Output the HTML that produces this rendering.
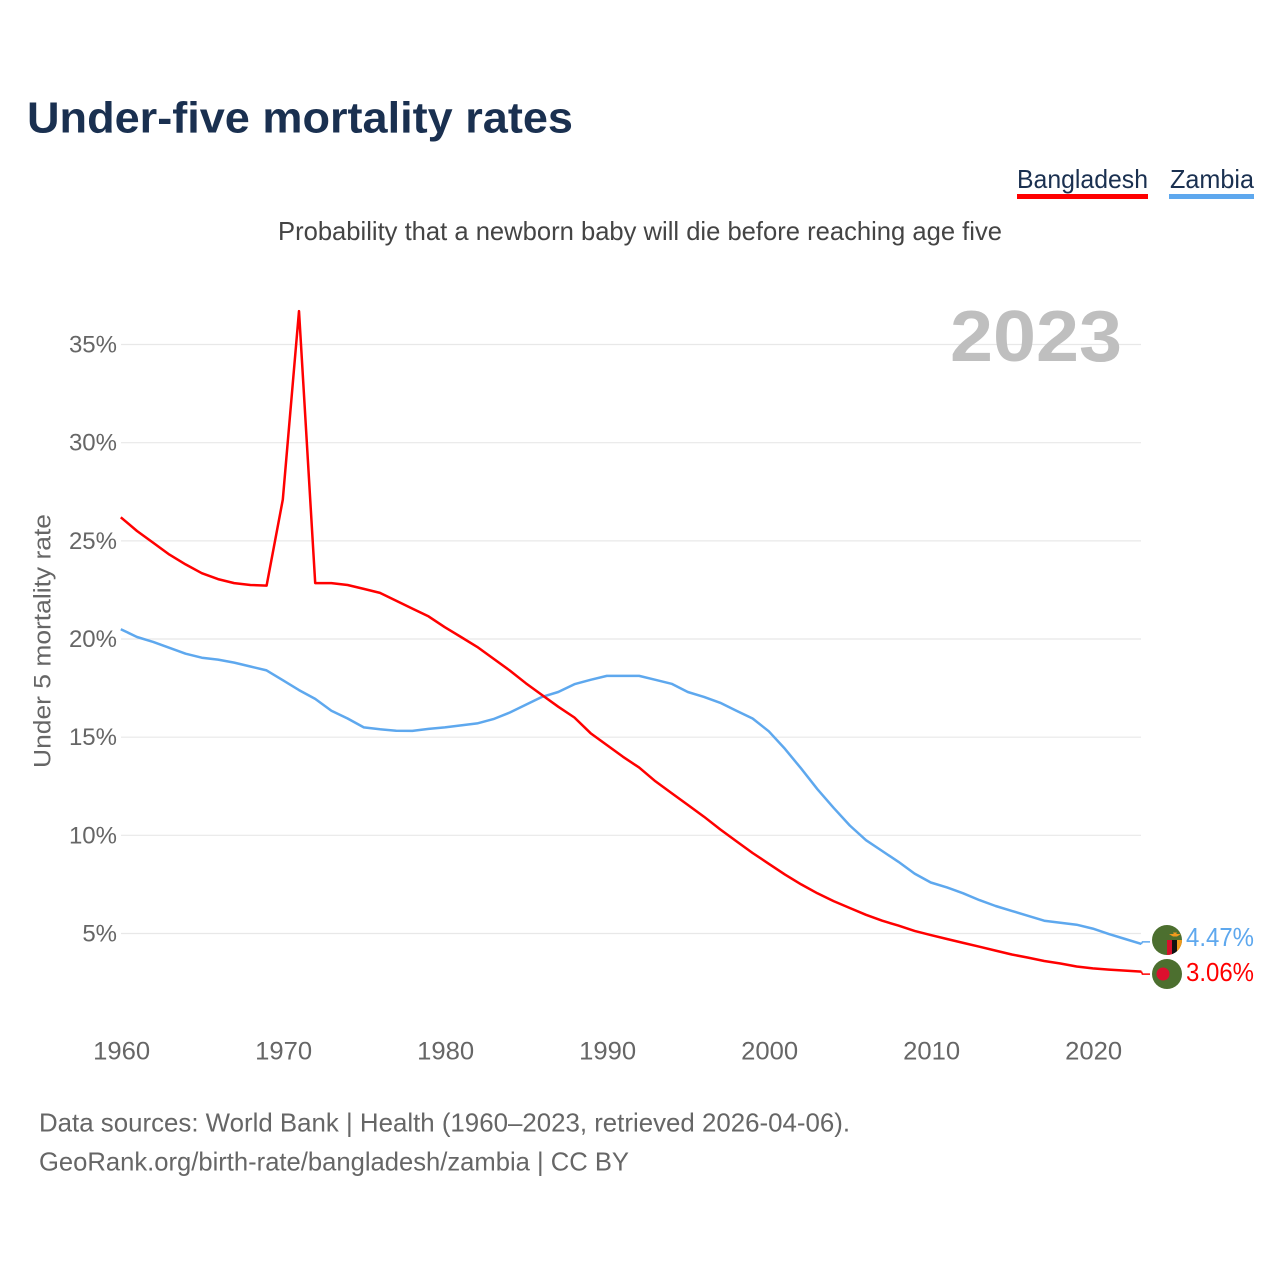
<!DOCTYPE html>
<html lang="en">
<head>
<meta charset="utf-8">
<title>Under-five mortality rates</title>
<style>
html,body{margin:0;padding:0;background:#fff;width:1280px;height:1280px;overflow:hidden}
svg{display:block}
text{font-family:"Liberation Sans",sans-serif}
</style>
</head>
<body>
<svg id="chart" xmlns="http://www.w3.org/2000/svg" width="1280" height="1280" viewBox="0 0 1280 1280">
  <rect x="0" y="0" width="1280" height="1280" fill="#fff"/>
  <text x="27" y="132.500" font-size="44" font-weight="700" fill="#1a3050" textLength="546" lengthAdjust="spacingAndGlyphs">Under-five mortality rates</text>
  <g>
    <text x="1017" y="188" font-size="26" fill="#1a3050" textLength="131" lengthAdjust="spacingAndGlyphs">Bangladesh</text>
    <rect x="1017" y="194" width="131" height="5" fill="#ff0000"/>
  </g>
  <g>
    <text x="1170" y="188" font-size="26" fill="#1a3050" textLength="84" lengthAdjust="spacingAndGlyphs">Zambia</text>
    <rect x="1169" y="194" width="85" height="5" fill="#5ea8ee"/>
  </g>
  <text x="278" y="240" font-size="26" fill="#444" textLength="724" lengthAdjust="spacingAndGlyphs">Probability that a newborn baby will die before reaching age five</text>
  <text transform="translate(50.500,768) rotate(-90)" x="0" y="0" font-size="24" fill="#666" textLength="254" lengthAdjust="spacingAndGlyphs">Under 5 mortality rate</text>
  <g id="grid"></g>
  <g id="yticks"></g>
  <g id="xticks"></g>
  <text x="950" y="361" font-size="72" font-weight="700" fill="#bfbfbf" textLength="172" lengthAdjust="spacingAndGlyphs">2023</text>
  <polyline id="line-zambia" fill="none" stroke="#5ea8ee" stroke-width="2.5" stroke-linejoin="round"/>
  <polyline id="line-bangladesh" fill="none" stroke="#ff0000" stroke-width="2.5" stroke-linejoin="round"/>
  <path id="leader-zambia" fill="none" stroke="#5ea8ee" stroke-width="1.5"/>
  <path id="leader-bangladesh" fill="none" stroke="#ff0000" stroke-width="1.5"/>
  <g>
    <clipPath id="clip-z"><circle cx="1167" cy="940" r="15"/></clipPath>
    <circle cx="1167" cy="940" r="15" fill="#4c6f2f"/>
    <g clip-path="url(#clip-z)">
      <rect x="1167" y="940" width="5" height="16" fill="#d8102c"/>
      <rect x="1172" y="940" width="5" height="16" fill="#111"/>
      <rect x="1177" y="940" width="5" height="16" fill="#ef9a1e"/>
      <path d="M1169 934h12l-4 2.500h-4z M1173 932.500h4l-2 4z" fill="#ef9a1e"/>
    </g>
  </g>
  <g>
    <circle cx="1167" cy="974" r="15" fill="#4c6f2f"/>
    <circle cx="1163" cy="974" r="6.500" fill="#dc0f2e"/>
  </g>
  <text id="value-zambia" x="1186" y="946" font-size="26" fill="#5ea8ee" textLength="68" lengthAdjust="spacingAndGlyphs"></text>
  <text id="value-bangladesh" x="1186" y="981" font-size="26" fill="#ff0000" textLength="68" lengthAdjust="spacingAndGlyphs"></text>
  <text x="39" y="1131.500" font-size="26" fill="#666" textLength="811" lengthAdjust="spacingAndGlyphs">Data sources: World Bank | Health (1960–2023, retrieved 2026-04-06).</text>
  <text x="39" y="1170.500" font-size="26" fill="#666" textLength="590" lengthAdjust="spacingAndGlyphs">GeoRank.org/birth-rate/bangladesh/zambia | CC BY</text>
</svg>
<script>
const startYear = 1960;
const xTickYears = [1960, 1970, 1980, 1990, 2000, 2010, 2020];
const yTickValues = [5, 10, 15, 20, 25, 30, 35];
const bangladesh = [26.2,25.5,24.9,24.3,23.8,23.35,23.05,22.85,22.75,22.72,27.1,36.7,22.85,22.85,22.75,22.55,22.35,21.95,21.55,21.15,20.6,20.1,19.6,19,18.4,17.75,17.15,16.55,16,15.2,14.6,14,13.45,12.75,12.15,11.55,10.95,10.3,9.7,9.1,8.55,8,7.5,7.05,6.65,6.3,5.95,5.65,5.4,5.13,4.92,4.72,4.52,4.33,4.13,3.93,3.77,3.6,3.47,3.32,3.22,3.16,3.11,3.06];
const zambia = [20.5,20.1,19.85,19.55,19.25,19.05,18.95,18.8,18.6,18.4,17.9,17.4,16.95,16.35,15.95,15.5,15.4,15.33,15.32,15.42,15.5,15.6,15.7,15.92,16.25,16.65,17.05,17.3,17.7,17.92,18.12,18.12,18.12,17.92,17.72,17.3,17.05,16.75,16.35,15.95,15.3,14.4,13.4,12.35,11.4,10.5,9.75,9.2,8.65,8.05,7.6,7.35,7.05,6.7,6.4,6.15,5.9,5.65,5.55,5.45,5.25,4.97,4.72,4.47];

const NS = 'http://www.w3.org/2000/svg';
function xScale(year) { return 120.8 + (year - 1960) * 16.2; }
function yScale(v) { return 933.5 - (v - 5) * 19.633; }
function points(series) {
  return series.map(function (v, i) {
    return xScale(startYear + i).toFixed(1) + ',' + yScale(v).toFixed(1);
  }).join(' ');
}

const grid = document.getElementById('grid');
const yticks = document.getElementById('yticks');
const xticks = document.getElementById('xticks');

yTickValues.forEach(function (v) {
  const line = document.createElementNS(NS, 'line');
  
  
  line.setAttribute('x1', 121);
  line.setAttribute('x2', 1141);
  line.setAttribute('y1', yScale(v));
  line.setAttribute('y2', yScale(v));
  line.setAttribute('stroke', '#e8e8e8');
  line.setAttribute('stroke-width', '1.2');
  grid.appendChild(line);

  const label = document.createElementNS(NS, 'text');
  
  
  label.setAttribute('x', 117);
  label.setAttribute('y', yScale(v) + 8);
  label.setAttribute('text-anchor', 'end');
  label.setAttribute('font-size', '24');
  label.setAttribute('fill', '#666');
  label.textContent = v + '%';
  yticks.appendChild(label);
});

xTickYears.forEach(function (year) {
  const label = document.createElementNS(NS, 'text');
  
  
  label.setAttribute('x', xScale(year) + 0.9);
  label.setAttribute('y', 1059.5);
  label.setAttribute('text-anchor', 'middle');
  label.setAttribute('font-size', '25');
  label.setAttribute('fill', '#666');
  label.setAttribute('textLength', '57');
  label.setAttribute('lengthAdjust', 'spacingAndGlyphs');
  label.textContent = String(year);
  xticks.appendChild(label);
});

document.getElementById('line-bangladesh').setAttribute('points', points(bangladesh));
document.getElementById('line-zambia').setAttribute('points', points(zambia));

const lastX = xScale(startYear + zambia.length - 1);
const lastZ = yScale(zambia[zambia.length - 1]);
const lastB = yScale(bangladesh[bangladesh.length - 1]);
document.getElementById('leader-zambia').setAttribute('d', 'M' + lastX + ' ' + lastZ + 'L' + (lastX + 1) + ' ' + (lastZ - 2) + 'H1150');
document.getElementById('leader-bangladesh').setAttribute('d', 'M' + lastX + ' ' + lastB + 'L' + (lastX + 1) + ' ' + (lastB + 2.5) + 'H1150');
document.getElementById('value-zambia').textContent = zambia[zambia.length - 1].toFixed(2) + '%';
document.getElementById('value-bangladesh').textContent = bangladesh[bangladesh.length - 1].toFixed(2) + '%';
</script>
</body>
</html>
